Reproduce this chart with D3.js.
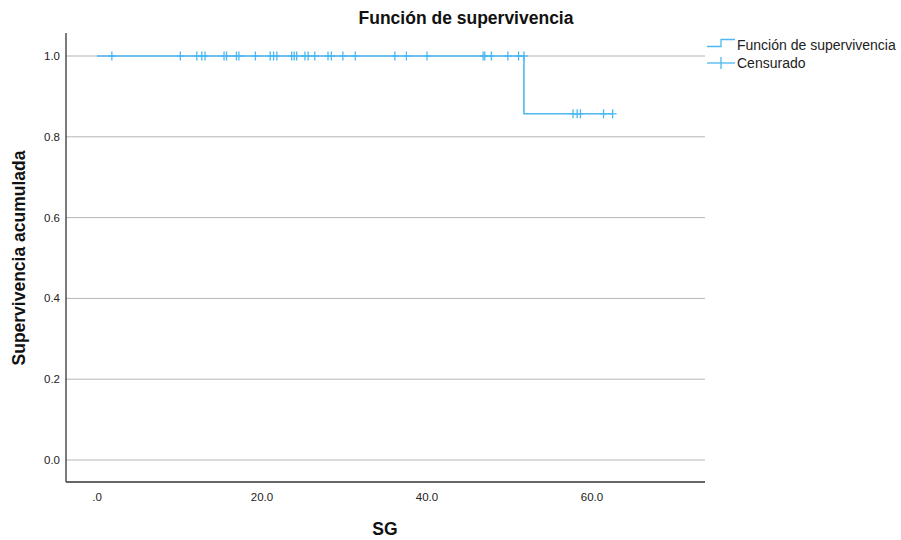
<!DOCTYPE html>
<html>
<head>
<meta charset="utf-8">
<script src="https://cdn.jsdelivr.net/npm/d3@7"></script>
<style>
  body { margin: 0; background: #fff; }
  svg { font-family: "Liberation Sans", Arial, sans-serif; }
</style>
</head>
<body>
<svg id="chart" width="901" height="540"></svg>
<script>
// survival steps: [time, survival]
const stepTimes = [0, 51.75, 51.75, 62.5];
const stepSurv = [1.0, 1.0, 0.857, 0.857];

// censored times and survival level at that time
const censTimes = [1.8, 10.1, 12.1, 12.7, 13.1, 15.4, 15.7, 16.9, 17.2, 19.2, 21.0, 21.4, 21.8,
  23.6, 23.9, 24.2, 25.2, 25.6, 26.4, 28.0, 28.4, 29.8, 31.3, 36.1, 37.5, 40.0,
  46.8, 47.0, 47.8, 49.8, 51.1, 51.75,
  57.7, 58.2, 58.6, 61.4, 62.5];
const censSurv = censTimes.map(t => t > 51.75 ? 0.857 : 1.0);

const yTicks = [0, 0.2, 0.4, 0.6, 0.8, 1.0];
const xTicks = [0, 20, 40, 60];
const legendItems = ["Función de supervivencia", "Censurado"];

const blue = "#4db8f2";
const plotL = 66, plotR = 705, plotT = 33, plotB = 482;

const svg = d3.select("#chart");

const x = d3.scaleLinear().domain([0, 20]).range([97, 262]);
const y = d3.scaleLinear().domain([0, 1]).range([460, 56]);

// gridlines
svg.append("g")
  .selectAll("line")
  .data(yTicks)
  .enter()
  .append("line")
  .attr("x1", plotL).attr("x2", plotR)
  .attr("y1", d => y(d)).attr("y2", d => y(d))
  .attr("stroke", "#b4b4b4")
  .attr("stroke-width", 1);

// axes frame
svg.append("line")
  .attr("x1", plotL).attr("x2", plotL).attr("y1", plotT).attr("y2", plotB)
  .attr("stroke", "#333").attr("stroke-width", 1.3);
svg.append("line")
  .attr("x1", plotL).attr("x2", plotR).attr("y1", plotB).attr("y2", plotB)
  .attr("stroke", "#333").attr("stroke-width", 1.3);

// tick labels
svg.append("g")
  .selectAll("text")
  .data(yTicks)
  .enter()
  .append("text")
  .attr("x", 60)
  .attr("y", d => y(d) + 4)
  .attr("text-anchor", "end")
  .attr("font-size", 11.5)
  .attr("fill", "#222")
  .text(d => d.toFixed(1));

svg.append("g")
  .selectAll("text")
  .data(xTicks)
  .enter()
  .append("text")
  .attr("x", d => x(d))
  .attr("y", 501)
  .attr("text-anchor", "middle")
  .attr("font-size", 11.5)
  .attr("fill", "#222")
  .text(d => d === 0 ? ".0" : d.toFixed(1));

// survival step line
const line = d3.line().x(d => x(d[0])).y(d => y(d[1]));
svg.append("path")
  .datum(stepTimes.map((t, i) => [t, stepSurv[i]]))
  .attr("d", line)
  .attr("fill", "none")
  .attr("stroke", blue)
  .attr("stroke-width", 1.6);

// censor marks
const cens = svg.append("g")
  .selectAll("g")
  .data(censTimes.map((t, i) => [t, censSurv[i]]))
  .enter()
  .append("g")
  .attr("transform", d => `translate(${x(d[0])},${y(d[1])})`);
cens.append("line").attr("x1", 0).attr("x2", 0).attr("y1", -4.5).attr("y2", 4.5)
  .attr("stroke", blue).attr("stroke-width", 1.3);
cens.append("line").attr("x1", -4).attr("x2", 4).attr("y1", 0).attr("y2", 0)
  .attr("stroke", blue).attr("stroke-width", 1.3);

// legend
const lg = svg.append("g");
lg.append("path")
  .attr("d", "M707,46.5 H721 V39.5 H735")
  .attr("fill", "none").attr("stroke", blue).attr("stroke-width", 1.3);
lg.append("line").attr("x1", 707).attr("x2", 735).attr("y1", 63).attr("y2", 63)
  .attr("stroke", blue).attr("stroke-width", 1.3);
lg.append("line").attr("x1", 721).attr("x2", 721).attr("y1", 57).attr("y2", 69)
  .attr("stroke", blue).attr("stroke-width", 1.3);
lg.selectAll("text")
  .data(legendItems)
  .enter()
  .append("text")
  .attr("x", 737)
  .attr("y", (d, i) => 50 + i * 18)
  .attr("font-size", 14)
  .attr("fill", "#222")
  .text(d => d);

// titles
svg.append("text")
  .attr("x", 466).attr("y", 24)
  .attr("text-anchor", "middle")
  .attr("font-size", 17.5).attr("font-weight", "bold")
  .attr("fill", "#111")
  .text("Función de supervivencia");

svg.append("text")
  .attr("x", 385).attr("y", 535)
  .attr("text-anchor", "middle")
  .attr("font-size", 17.5).attr("font-weight", "bold")
  .attr("fill", "#111")
  .text("SG");

svg.append("text")
  .attr("transform", "translate(25,258) rotate(-90)")
  .attr("text-anchor", "middle")
  .attr("font-size", 17.5).attr("font-weight", "bold")
  .attr("fill", "#111")
  .text("Supervivencia acumulada");
</script>
</body>
</html>
